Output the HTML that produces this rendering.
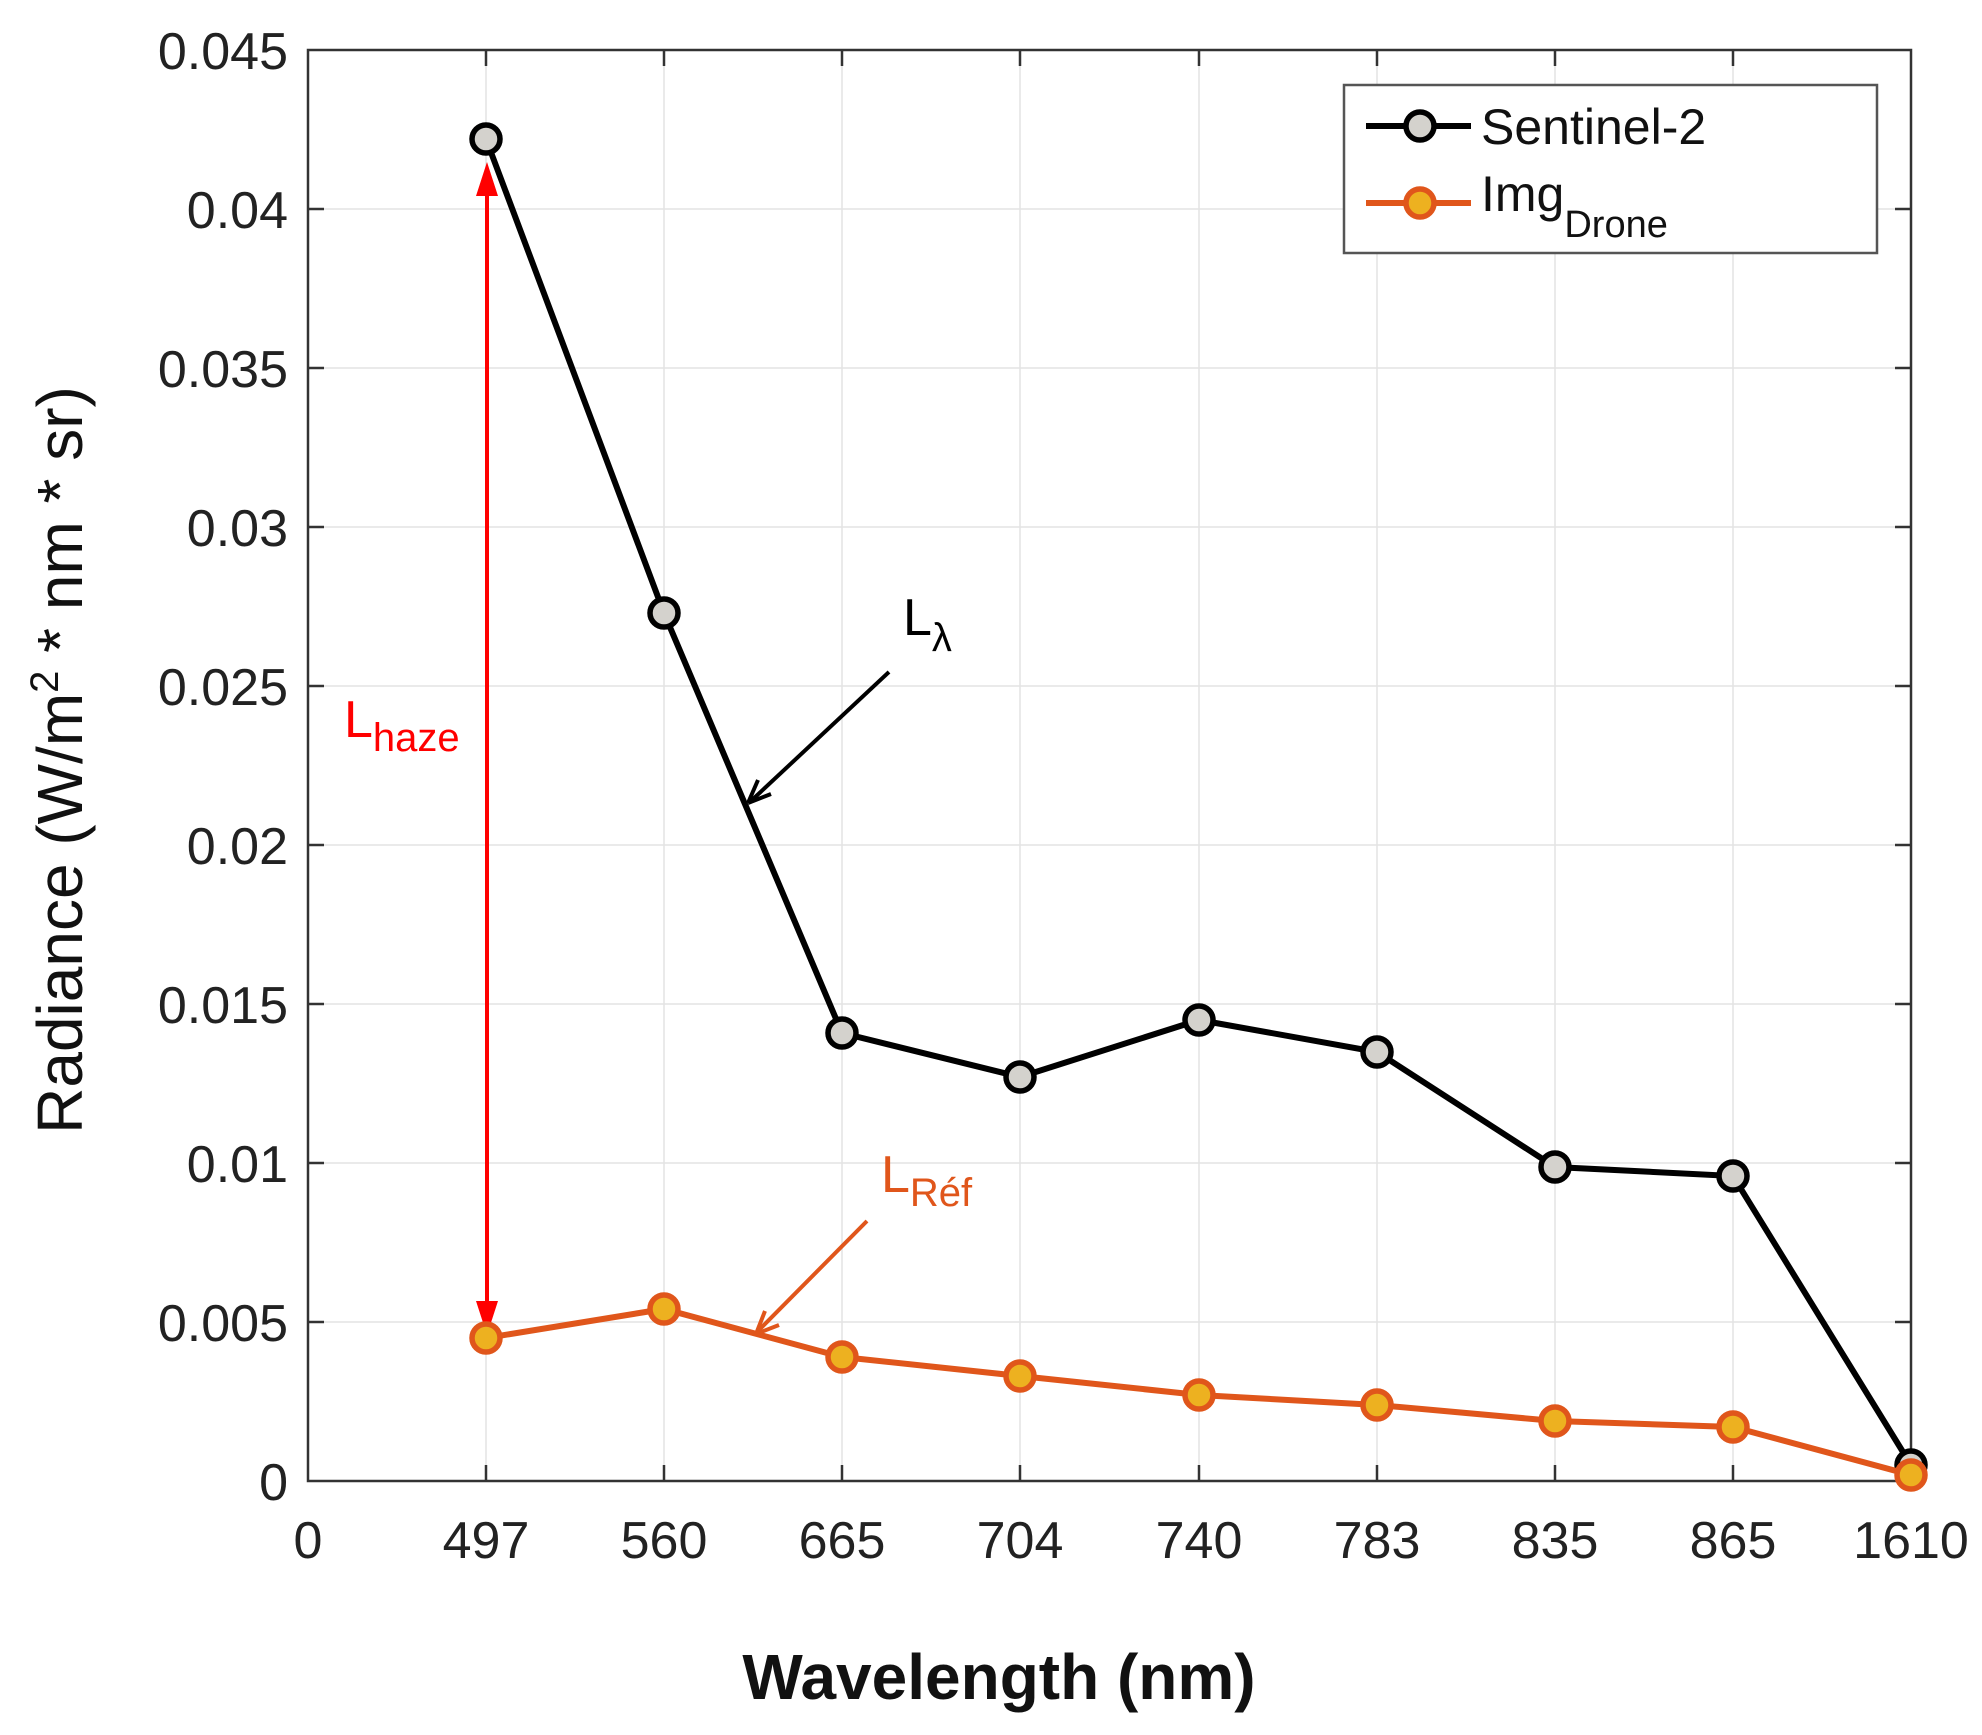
<!DOCTYPE html>
<html><head><meta charset="utf-8"><style>
html,body{margin:0;padding:0;background:#fff;}
svg{display:block;}
text{font-family:"Liberation Sans",Arial,sans-serif;}
</style></head><body>
<svg width="1982" height="1735" viewBox="0 0 1982 1735" xmlns="http://www.w3.org/2000/svg">
<rect width="1982" height="1735" fill="#fff"/>
<g stroke="#e3e3e3" stroke-width="1.5">
<line x1="486" y1="50" x2="486" y2="1481"/><line x1="664" y1="50" x2="664" y2="1481"/><line x1="842" y1="50" x2="842" y2="1481"/><line x1="1020" y1="50" x2="1020" y2="1481"/><line x1="1199" y1="50" x2="1199" y2="1481"/><line x1="1377" y1="50" x2="1377" y2="1481"/><line x1="1555" y1="50" x2="1555" y2="1481"/><line x1="1733" y1="50" x2="1733" y2="1481"/>
<line x1="308" y1="1322" x2="1911" y2="1322"/><line x1="308" y1="1163" x2="1911" y2="1163"/><line x1="308" y1="1004" x2="1911" y2="1004"/><line x1="308" y1="845" x2="1911" y2="845"/><line x1="308" y1="686" x2="1911" y2="686"/><line x1="308" y1="527" x2="1911" y2="527"/><line x1="308" y1="368" x2="1911" y2="368"/><line x1="308" y1="209" x2="1911" y2="209"/>
</g>
<rect x="308" y="50" width="1603" height="1431" fill="none" stroke="#333" stroke-width="2.5"/>
<g stroke="#333" stroke-width="2.5">
<path d="M486,1481v-16M664,1481v-16M842,1481v-16M1020,1481v-16M1199,1481v-16M1377,1481v-16M1555,1481v-16M1733,1481v-16"/>
<path d="M486,50v16M664,50v16M842,50v16M1020,50v16M1199,50v16M1377,50v16M1555,50v16M1733,50v16"/>
<path d="M308,1322h16M308,1163h16M308,1004h16M308,845h16M308,686h16M308,527h16M308,368h16M308,209h16"/>
<path d="M1911,1322h-16M1911,1163h-16M1911,1004h-16M1911,845h-16M1911,686h-16M1911,527h-16M1911,368h-16M1911,209h-16"/>
</g>
<g font-size="52" fill="#222" text-anchor="end">
<text x="288" y="1500">0</text><text x="288" y="1341">0.005</text><text x="288" y="1182">0.01</text><text x="288" y="1023">0.015</text><text x="288" y="864">0.02</text><text x="288" y="705">0.025</text><text x="288" y="546">0.03</text><text x="288" y="387">0.035</text><text x="288" y="228">0.04</text><text x="288" y="69">0.045</text>
</g>
<g font-size="52" fill="#222" text-anchor="middle">
<text x="308" y="1558">0</text><text x="486" y="1558">497</text><text x="664" y="1558">560</text><text x="842" y="1558">665</text><text x="1020" y="1558">704</text><text x="1199" y="1558">740</text><text x="1377" y="1558">783</text><text x="1555" y="1558">835</text><text x="1733" y="1558">865</text><text x="1911" y="1558">1610</text>
</g>
<text x="999" y="1699" font-size="64" font-weight="bold" text-anchor="middle" fill="#111">Wavelength (nm)</text>
<text transform="translate(82,760) rotate(-90)" font-size="64" text-anchor="middle" fill="#111">Radiance (W/m<tspan font-size="40" dy="-24">2</tspan><tspan dy="24"> * nm * sr)</tspan></text>
<!-- red haze arrow -->
<line x1="487" y1="185" x2="487" y2="1320" stroke="#f00" stroke-width="4"/>
<path d="M487,162 L476,196 L498,196 z" fill="#f00"/>
<path d="M487,1335 L476,1301 L498,1301 z" fill="#f00"/>
<text x="344" y="737" font-size="52" fill="#f00">L<tspan font-size="40" dy="14">haze</tspan></text>
<!-- black series -->
<polyline fill="none" stroke="#000" stroke-width="6" points="486,139 664,613 842,1033 1020,1077 1199,1020 1377,1052 1555,1167 1733,1176 1911,1465"/>
<g fill="#d4d2cd" stroke="#000" stroke-width="5.5">
<circle cx="486" cy="139" r="14"/><circle cx="664" cy="613" r="14"/><circle cx="842" cy="1033" r="14"/><circle cx="1020" cy="1077" r="14"/><circle cx="1199" cy="1020" r="14"/><circle cx="1377" cy="1052" r="14"/><circle cx="1555" cy="1167" r="14"/><circle cx="1733" cy="1176" r="14"/><circle cx="1911" cy="1465" r="14"/>
</g>
<!-- orange series -->
<polyline fill="none" stroke="#e0561b" stroke-width="6" points="486,1338 664,1309 842,1357 1020,1376 1199,1395 1377,1405 1555,1421 1733,1427 1911,1475"/>
<g fill="#edb120" stroke="#e0561b" stroke-width="5.5">
<circle cx="486" cy="1338" r="14"/><circle cx="664" cy="1309" r="14"/><circle cx="842" cy="1357" r="14"/><circle cx="1020" cy="1376" r="14"/><circle cx="1199" cy="1395" r="14"/><circle cx="1377" cy="1405" r="14"/><circle cx="1555" cy="1421" r="14"/><circle cx="1733" cy="1427" r="14"/><circle cx="1911" cy="1475" r="14"/>
</g>
<!-- annotations -->
<text x="903" y="635" font-size="52" fill="#000">L<tspan font-size="40" dy="16">λ</tspan></text>
<line x1="889" y1="672" x2="752" y2="800" stroke="#000" stroke-width="4"/>
<path d="M748,803 L758,780 M748,803 L771,794" stroke="#000" stroke-width="4" fill="none"/>
<text x="881" y="1192" font-size="52" fill="#e0561b">L<tspan font-size="40" dy="14">Réf</tspan></text>
<line x1="867" y1="1221" x2="759" y2="1330" stroke="#e0561b" stroke-width="4"/>
<path d="M756,1334 L765,1311 M756,1334 L779,1325" stroke="#e0561b" stroke-width="4" fill="none"/>
<!-- legend -->
<rect x="1344" y="85" width="533" height="168" fill="#fff" stroke="#555" stroke-width="2.5"/>
<line x1="1366" y1="126" x2="1471" y2="126" stroke="#000" stroke-width="6"/>
<circle cx="1420" cy="126" r="14" fill="#d4d2cd" stroke="#000" stroke-width="5.5"/>
<text x="1481" y="144" font-size="50" fill="#111">Sentinel-2</text>
<line x1="1366" y1="203" x2="1471" y2="203" stroke="#e0561b" stroke-width="6"/>
<circle cx="1420" cy="203" r="14" fill="#edb120" stroke="#e0561b" stroke-width="5.5"/>
<text x="1481" y="211" font-size="50" fill="#111">Img<tspan font-size="38" dy="26">Drone</tspan></text>
</svg>
</body></html>
